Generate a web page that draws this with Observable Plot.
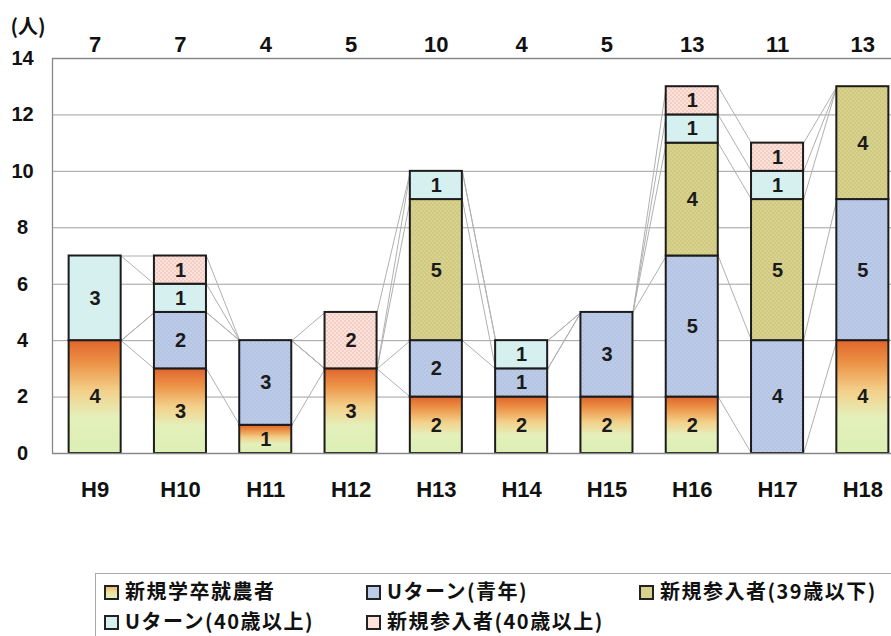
<!DOCTYPE html>
<html>
<head>
<meta charset="utf-8">
<script src="https://cdn.jsdelivr.net/npm/d3@7"></script>
<script src="https://cdn.jsdelivr.net/npm/@observablehq/plot@0.6"></script>
<style>
  html, body { margin: 0; padding: 0; background: #fff; }
  body { width: 891px; height: 636px; position: relative; overflow: hidden; font-family: "Noto Sans CJK JP", "Noto Sans", sans-serif; }
  #chart { position: absolute; left: 0; top: 0; }
  #legend { position: absolute; left: 95px; top: 573px; width: 795px; height: 62px; border-top: 1px solid #aaa; border-left: 1px solid #aaa; }
  .item { position: absolute; font-size: 20px; letter-spacing: 1.5px; font-weight: bold; color: #111; white-space: nowrap; line-height: 29px; height: 29px; }
  .sw { display: inline-block; box-sizing: border-box; width: 15px; height: 15px; border: 2px solid #222; margin-right: 6px; vertical-align: -1px; }
</style>
</head>
<body>
<div id="chart"></div>
<div id="legend"></div>
<script>
// ---- data ----
const years = ["H9", "H10", "H11", "H12", "H13", "H14", "H15", "H16", "H17", "H18"];
const seriesNames = ["新規学卒就農者", "Uターン(青年)", "新規参入者(39歳以下)", "Uターン(40歳以上)", "新規参入者(40歳以上)"];
const shinkiGakusotsu = [4, 3, 1, 3, 2, 2, 2, 2, 0, 4];
const uTurnSeinen     = [0, 2, 3, 0, 2, 1, 3, 5, 4, 5];
const shinki39        = [0, 0, 0, 0, 5, 0, 0, 4, 5, 4];
const uTurn40         = [3, 1, 0, 0, 1, 1, 0, 1, 1, 0];
const shinki40        = [0, 1, 0, 2, 0, 0, 0, 1, 1, 0];
const totals          = [7, 7, 4, 5, 10, 4, 5, 13, 11, 13];
const yTicks = [0, 2, 4, 6, 8, 10, 12, 14];

// ---- styling ----
const fills = ["url(#gGrad)", "url(#pBlue)", "url(#pOlive)", "#d6f0f0", "url(#pPink)"];
const swatchCss = [
  "linear-gradient(#ecc070, #f2e0a0, #e4f0bc)",
  "#bccbe8", "#d8d28e", "#d6f0f0", "#fbe2da"
];
const numFont = "'Liberation Sans', Arial, sans-serif";

const seriesVals = [shinkiGakusotsu, uTurnSeinen, shinki39, uTurn40, shinki40];
const rows = [];
const cum = years.map(() => []);
years.forEach((yr, i) => {
  let c = 0;
  seriesVals.forEach((arr, k) => {
    const v = arr[i];
    rows.push({i, k, v, y1: c, y2: c + v, fill: fills[k]});
    c += v;
    cum[i].push(c);
  });
});
const half = 0.305;
const links = [];
for (let i = 0; i < years.length - 1; i++) {
  for (let k = 0; k < seriesNames.length; k++) {
    links.push({x1: i + half, x2: i + 1 - half, y1: cum[i][k], y2: cum[i + 1][k]});
  }
}
const totalRows = totals.map((t, i) => ({i, t}));

const plot = Plot.plot({
  width: 891,
  height: 560,
  marginLeft: 52,
  marginRight: 0,
  marginTop: 58,
  marginBottom: 107,
  style: {fontFamily: numFont, background: "#fff", color: "#111", overflow: "hidden"},
  x: {domain: [-0.5, 9.5], range: [52, 905], axis: null},
  y: {domain: [0, 14], axis: null},
  color: {type: "identity"},
  marks: [
    Plot.ruleY(yTicks.filter(t => t > 0 && t < 14), {stroke: "#a0a0a0", strokeWidth: 1}),
    Plot.link(links, {x1: "x1", x2: "x2", y1: "y1", y2: "y2", stroke: "#b0b0b0", strokeWidth: 1}),
    Plot.rect(rows.filter(d => d.v > 0), {
      x1: d => d.i - half, x2: d => d.i + half, y1: "y1", y2: "y2",
      fill: "fill", stroke: "#1c1c1c", strokeWidth: 2
    }),
    Plot.text(rows.filter(d => d.v > 0), {
      x: "i", y: d => (d.y1 + d.y2) / 2, text: d => String(d.v),
      fontSize: 20, fontWeight: "bold", fill: "#1a1a1a"
    }),
    Plot.ruleY([0, 14], {stroke: "#888", strokeWidth: 1.3}),
    Plot.ruleX([-0.5], {stroke: "#888", strokeWidth: 1.3}),
    Plot.axisY({ticks: yTicks, tickSize: 0, tickPadding: 30, textAnchor: "middle", fontSize: 20, fontWeight: "bold", label: null}),
    Plot.axisX({ticks: years.map((_, i) => i), tickFormat: i => years[i], tickSize: 0, tickPadding: 28, fontSize: 22, fontWeight: "bold", label: null}),
    Plot.text(totalRows, {x: "i", y: () => 14, dy: -14, text: d => String(d.t), fontSize: 22, fontWeight: "bold", fill: "#111"}),
    Plot.text(["(人)"], {frameAnchor: "top-left", dx: -42, dy: -39, text: d => d, fontSize: 20, fontWeight: "bold", textAnchor: "start", fill: "#111", fontFamily: "'Noto Sans CJK JP', sans-serif"})
  ]
});

// definitions for gradient and dotted patterns
const svg = d3.select(plot);
const defs = svg.insert("defs", ":first-child");
const grad = defs.append("linearGradient").attr("id", "gGrad").attr("x1", 0).attr("y1", 0).attr("x2", 0).attr("y2", 1);
[["0%", "#e0652c"], ["20%", "#ec9246"], ["45%", "#f3d08a"], ["68%", "#e4f0ba"], ["100%", "#dcefb4"]]
  .forEach(([o, c]) => grad.append("stop").attr("offset", o).attr("stop-color", c));
function dotPattern(id, base, dot) {
  const p = defs.append("pattern").attr("id", id).attr("width", 4).attr("height", 4).attr("patternUnits", "userSpaceOnUse");
  p.append("rect").attr("width", 4).attr("height", 4).attr("fill", base);
  p.append("circle").attr("cx", 1).attr("cy", 1).attr("r", 0.7).attr("fill", dot);
  p.append("circle").attr("cx", 3).attr("cy", 3).attr("r", 0.7).attr("fill", dot);
}
dotPattern("pBlue", "#bccbe8", "#a8b8dc");
dotPattern("pOlive", "#d8d28e", "#c2ba6c");
dotPattern("pPink", "#fbe2da", "#e8aaa0");

document.getElementById("chart").appendChild(plot);

// legend
const legendPos = [[8, 2], [270, 2], [543, 2], [8, 32], [270, 32]];
const legend = document.getElementById("legend");
seriesNames.forEach((name, k) => {
  const el = document.createElement("div");
  el.className = "item";
  el.style.left = legendPos[k][0] + "px";
  el.style.top = legendPos[k][1] + "px";
  el.innerHTML = `<span class="sw" style="background:${swatchCss[k]}"></span>${name}`;
  legend.appendChild(el);
});
</script>
</body>
</html>
